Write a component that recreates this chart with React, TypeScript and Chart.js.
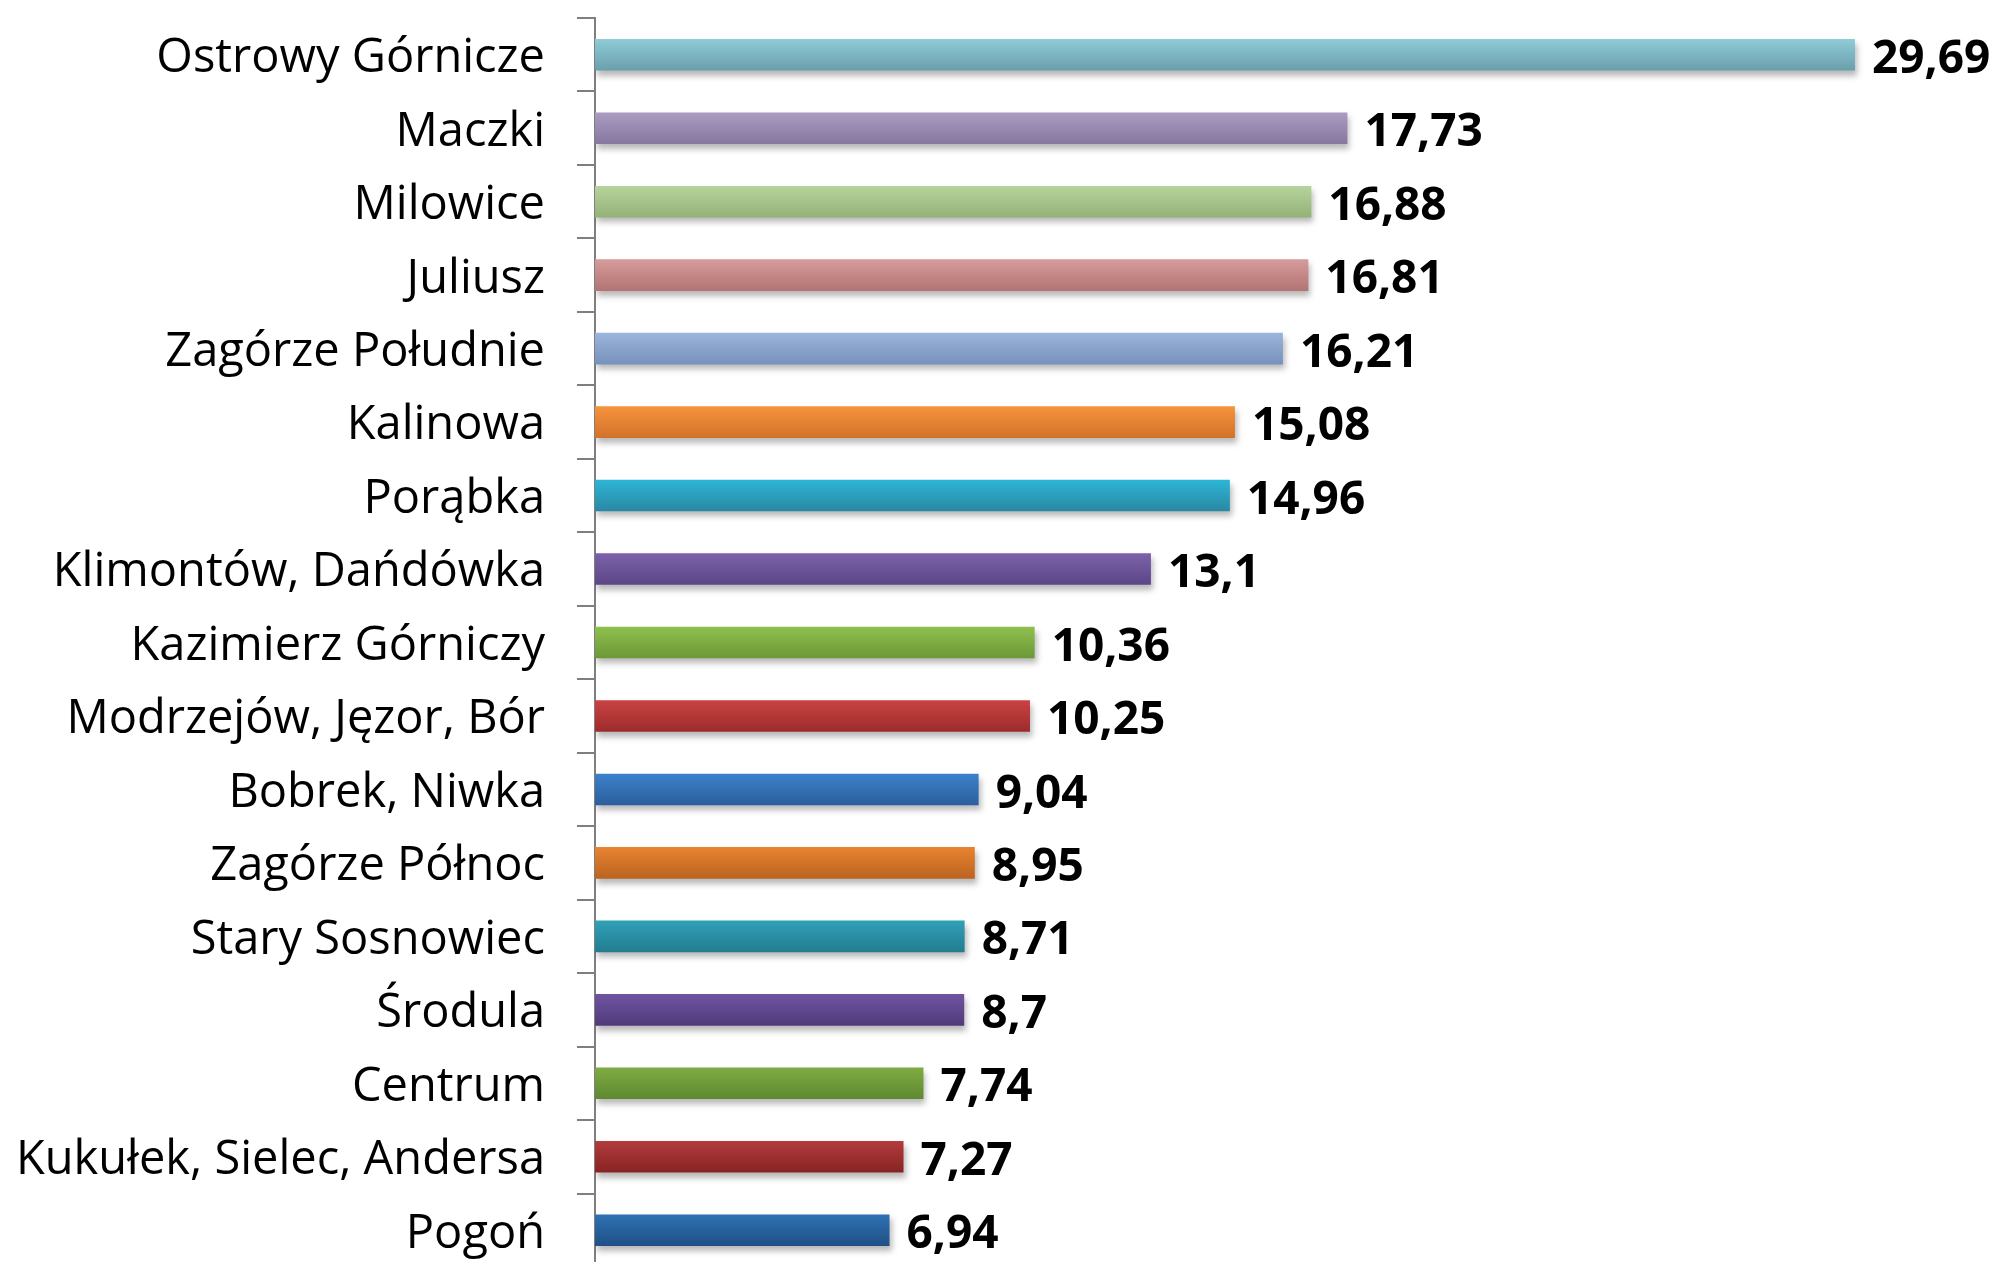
import React, { useEffect, useRef } from "react";
import { Chart, registerables } from "chart.js";

Chart.register(...registerables);

const categories = [
  "Ostrowy Górnicze",
  "Maczki",
  "Milowice",
  "Juliusz",
  "Zagórze Południe",
  "Kalinowa",
  "Porąbka",
  "Klimontów, Dańdówka",
  "Kazimierz Górniczy",
  "Modrzejów, Jęzor, Bór",
  "Bobrek, Niwka",
  "Zagórze Północ",
  "Stary Sosnowiec",
  "Środula",
  "Centrum",
  "Kukułek, Sielec, Andersa",
  "Pogoń",
];

const values = [29.69, 17.73, 16.88, 16.81, 16.21, 15.08, 14.96, 13.1, 10.36, 10.25, 9.04, 8.95, 8.71, 8.7, 7.74, 7.27, 6.94];

const valueLabels = ["29,69", "17,73", "16,88", "16,81", "16,21", "15,08", "14,96", "13,1", "10,36", "10,25", "9,04", "8,95", "8,71", "8,7", "7,74", "7,27", "6,94"];

const topColors = [
  "#8fcdd9", "#aa9cc2", "#b7d49c", "#d69c9b", "#9bb5dc", "#f7943c", "#2db6d6", "#7d62aa", "#8fc14e",
  "#cb4343", "#3c82ca", "#e98430", "#30a1b8", "#7054a2", "#80ac44", "#b33c3c", "#2f72b3",
];
const bottomColors = [
  "#6a9eab", "#85779d", "#94b178", "#b27373", "#7691bb", "#d2712a", "#2a87a2", "#5b4686", "#6c9737",
  "#9c2b2b", "#2a5d9d", "#bb6320", "#237c8f", "#503a7a", "#5d8830", "#872323", "#1f4f86",
];

const AXIS_X = 595;
const TOP = 18;
const CHART_H = 1267;

export default function App() {
  const ref = useRef<HTMLCanvasElement | null>(null);

  useEffect(() => {
    if (!ref.current) return;

    const shadowPlugin = {
      id: "barShadow",
      beforeDatasetDraw(chart: any) {
        const ctx = chart.ctx;
        ctx.save();
        ctx.shadowColor = "rgba(0,0,0,0.28)";
        ctx.shadowBlur = 6;
        ctx.shadowOffsetX = 2;
        ctx.shadowOffsetY = 5;
      },
      afterDatasetDraw(chart: any) {
        chart.ctx.restore();
      },
    };

    const valuePlugin = {
      id: "valueLabels",
      afterDatasetsDraw(chart: any) {
        const ctx = chart.ctx;
        const meta = chart.getDatasetMeta(0);
        ctx.save();
        ctx.font = "bold 46px 'Open Sans'";
        ctx.fillStyle = "#000";
        ctx.textAlign = "left";
        ctx.textBaseline = "middle";
        meta.data.forEach((el: any, i: number) => {
          ctx.fillText(valueLabels[i], el.x + 17, el.y + 5);
        });
        ctx.restore();
      },
    };

    const chart = new Chart(ref.current, {
      type: "bar",
      data: {
        labels: categories,
        datasets: [
          {
            data: values,
            backgroundColor: (c: any) => {
              const i = c.dataIndex ?? 0;
              const chartObj = c.chart;
              const yScale = chartObj.scales && chartObj.scales.y;
              if (!yScale) return topColors[i] || topColors[0];
              const yc = yScale.getPixelForValue(i);
              if (!isFinite(yc)) return topColors[i] || topColors[0];
              const half = 16;
              const g = chartObj.ctx.createLinearGradient(0, yc - half, 0, yc + half);
              g.addColorStop(0, topColors[i]);
              g.addColorStop(1, bottomColors[i]);
              return g;
            },
            borderWidth: 0,
            barPercentage: 0.43,
            categoryPercentage: 1,
          },
        ],
      },
      options: {
        indexAxis: "y",
        animation: false,
        responsive: false,
        maintainAspectRatio: false,
        layout: { padding: { top: TOP, right: 48, bottom: 0, left: 0 } },
        plugins: {
          legend: { display: false },
          tooltip: { enabled: false },
        },
        scales: {
          x: {
            display: false,
            min: 0,
            max: 32,
          },
          y: {
            afterFit: (scale: any) => {
              scale.width = AXIS_X;
              scale.paddingTop = 0;
              scale.paddingBottom = 0;
            },
            grid: {
              display: true,
              offset: true,
              drawOnChartArea: false,
              drawTicks: true,
              tickLength: 18,
              color: "#7f7f7f",
              lineWidth: 2,
            },
            border: { display: true, color: "#7f7f7f", width: 2 },
            ticks: {
              padding: 32,
              labelOffset: 4,
              color: "#000",
              font: { family: "'Open Sans'", size: 47 },
              autoSkip: false,
            },
          },
        },
      },
      plugins: [shadowPlugin, valuePlugin],
    } as any);

    return () => chart.destroy();
  }, []);

  return (
    <div
      style={{
        position: "fixed",
        left: 0,
        top: 0,
        width: 2001,
        height: 1262,
        overflow: "hidden",
        background: "#fff",
      }}
    >
      <canvas ref={ref} width={2001} height={CHART_H} style={{ display: "block", width: 2001, height: CHART_H }} />
    </div>
  );
}
